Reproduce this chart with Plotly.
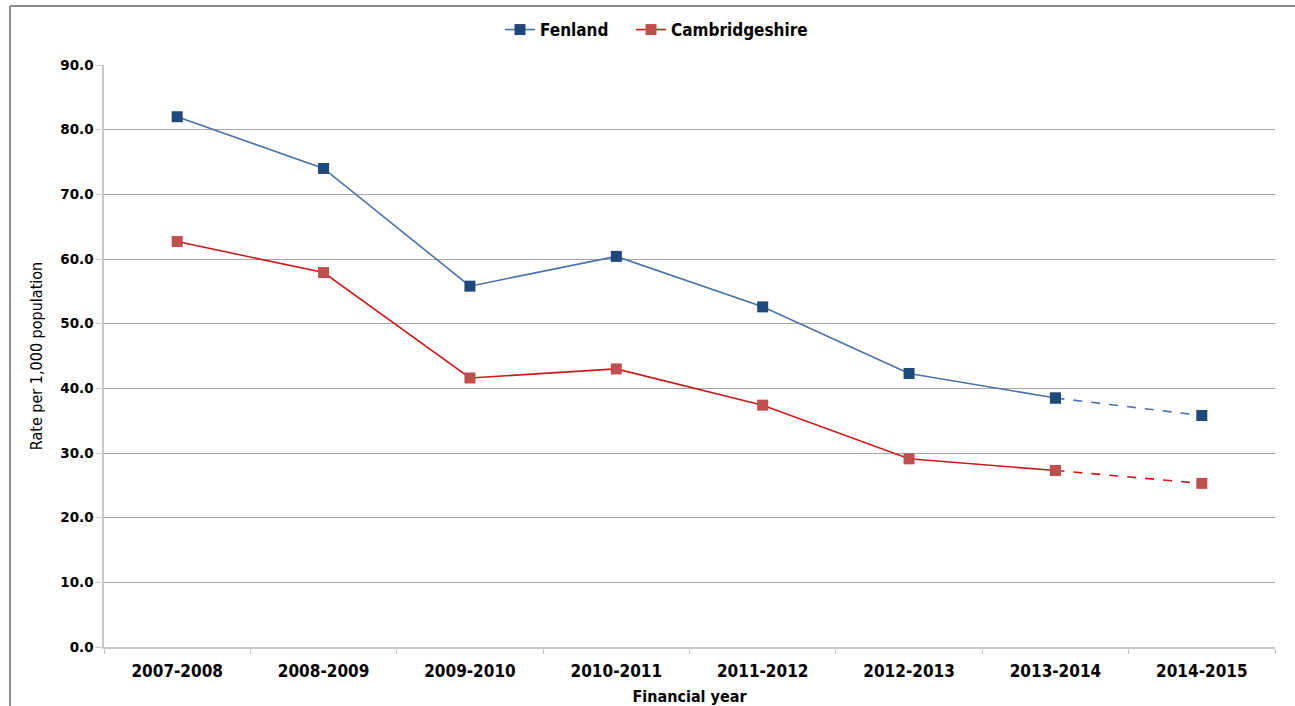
import plotly.graph_objects as go

# Financial years on the category axis
years = ["2007-2008", "2008-2009", "2009-2010", "2010-2011",
         "2011-2012", "2012-2013", "2013-2014", "2014-2015"]

# Rate per 1,000 population
fenland = [82.0, 74.0, 55.8, 60.4, 52.6, 42.3, 38.5, 35.8]
cambridgeshire = [62.7, 57.9, 41.6, 43.0, 37.4, 29.1, 27.3, 25.3]

y_ticks = [0, 10, 20, 30, 40, 50, 60, 70, 80, 90]

W, H = 1295, 706
L, R, T, B = 104, 20, 65, 59

blue_line = "#4A72A8"
blue_marker = "#1F497D"
red_line = "#D01818"
red_marker = "#C0504D"

fig = go.Figure()


def add_series(name, values, line_color, marker_color, legend_id):
    # observed years: solid line
    fig.add_trace(go.Scatter(
        x=years[:7], y=values[:7], name=name, mode="lines+markers",
        line=dict(color=line_color, width=1.6),
        marker=dict(symbol="square", size=11, color=marker_color),
        showlegend=True, legend=legend_id,
    ))
    # latest year: dashed continuation
    fig.add_trace(go.Scatter(
        x=years[6:], y=values[6:], name=name, mode="lines+markers",
        line=dict(color=line_color, width=1.6, dash="dash"),
        marker=dict(symbol="square", size=11, color=marker_color),
        showlegend=False, legend=legend_id,
    ))


add_series("Fenland", fenland, blue_line, blue_marker, "legend")
add_series("Cambridgeshire", cambridgeshire, red_line, red_marker, "legend2")

plot_w = W - L - R
plot_h = H - T - B


def px_x(px):
    return (px - L) / plot_w


def px_y(py):
    return (H - B - py) / plot_h


# outer chart frame (left and top edges)
frame = "#8C8C8C"
fig.add_shape(type="line", xref="paper", yref="paper",
              x0=px_x(10), x1=px_x(10), y0=px_y(6), y1=px_y(706),
              line=dict(color=frame, width=2))
fig.add_shape(type="line", xref="paper", yref="paper",
              x0=px_x(10), x1=px_x(1300), y0=px_y(6), y1=px_y(6),
              line=dict(color=frame, width=2))

legend_font = dict(family="DejaVu Sans Condensed", size=17, color="black", weight="bold")
legend_common = dict(orientation="h", y=px_y(30), xanchor="left", yanchor="middle",
                     font=legend_font, bgcolor="rgba(0,0,0,0)", itemwidth=30)

fig.update_layout(
    width=W, height=H,
    margin=dict(l=L, r=R, t=T, b=B, autoexpand=False),
    paper_bgcolor="white", plot_bgcolor="white",
    showlegend=True,
    legend=dict(x=px_x(500), **legend_common),
    legend2=dict(x=px_x(631), **legend_common),
    xaxis=dict(
        type="category", range=[-0.5, 7.5], automargin=False,
        showgrid=False, showline=True, linecolor="#C8C8C8", linewidth=1.5,
        ticks="outside", tickson="boundaries", ticklen=5, tickcolor="#C8C8C8",
        ticklabelstandoff=8,
        tickfont=dict(family="DejaVu Sans Condensed", size=17, color="black", weight="bold"),
        title=dict(text="Financial year", standoff=12,
                   font=dict(family="DejaVu Sans Condensed", size=16, color="black", weight="bold")),
    ),
    yaxis=dict(
        range=[0, 90], tickvals=y_ticks, tickformat=".1f", automargin=False,
        showgrid=True, gridcolor="#A6A6A6", gridwidth=1,
        zeroline=False, showline=True, linecolor="#C8C8C8", linewidth=1.5,
        ticks="outside", ticklen=6, tickcolor="#C8C8C8",
        tickfont=dict(family="DejaVu Sans", size=13.5, color="black", weight="bold"),
        title=dict(text="Rate per 1,000 population", standoff=14,
                   font=dict(family="DejaVu Sans Condensed", size=16, color="black")),
    ),
)

fig.write_html("out.html")
